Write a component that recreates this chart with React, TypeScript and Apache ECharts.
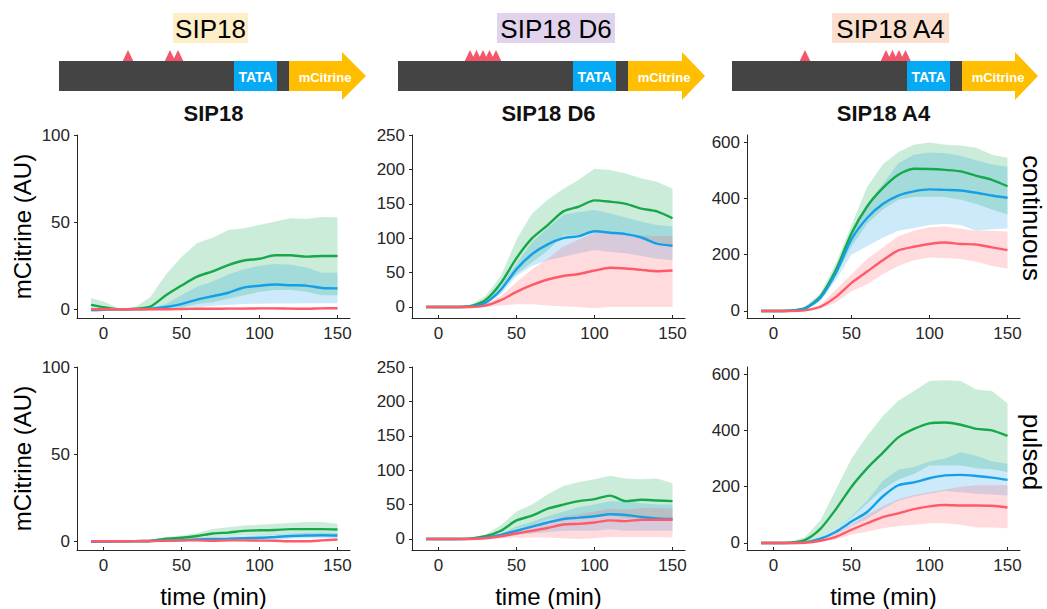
import React, { useEffect, useRef } from "react";
import * as echarts from "echarts";

// ---------- data ----------
const timeMin = [-8, 0, 10, 20, 30, 40, 50, 60, 70, 80, 90, 100, 110, 120, 130, 140, 150];
const xTicks = [0, 50, 100, 150];
const yTicksSIP18 = [0, 50, 100];
const yTicksD6 = [0, 50, 100, 150, 200, 250];
const yTicksA4 = [0, 200, 400, 600];

const panelTitles = ["SIP18", "SIP18 D6", "SIP18 A4"];
const rowLabels = ["continuous", "pulsed"];

// SIP18 continuous
const sip18ContG = [2.5, 1.2, 0, 0.3, 1.5, 8, 13.6, 18.7, 21.8, 25.4, 28, 29, 31, 31, 30.2, 30.6, 30.6];
const sip18ContGHi = [6.5, 4.5, 0.5, 1, 7, 20, 30, 38, 41, 45.5, 46.5, 48.4, 50.3, 52.2, 51.8, 53, 52.8];
const sip18ContGLo = [0, 0, -0.5, -0.3, 0, 0.5, 1, 3, 4, 6, 8, 10, 11, 11, 10, 8, 8];
const sip18ContB = [-0.5, -0.3, 0, 0, 0.3, 1.3, 3, 5.5, 7.5, 9.5, 12.5, 13.5, 14.2, 13.8, 13.6, 12.2, 12];
const sip18ContBHi = [0.5, 0.3, 0.3, 0.3, 0.8, 3, 8, 13, 16, 20, 23, 25, 26, 25.5, 24, 21, 21];
const sip18ContBLo = [-1.5, -1, -0.3, -0.2, 0, 0, 0.5, 1, 2, 2.5, 3, 3.2, 3.3, 3.3, 3.4, 3.5, 3.5];
const sip18ContR = [0, 0, 0, 0, 0, 0, 0.2, 0.3, 0.3, 0.4, 0.4, 0.5, 0.5, 0.4, 0.3, 0.5, 0.6];
const sip18ContRHi = [0.6, 0.6, 0.5, 0.5, 0.5, 0.6, 0.8, 0.9, 0.9, 1, 1, 1.1, 1.1, 1, 0.9, 1.1, 1.2];
const sip18ContRLo = [-0.6, -0.6, -0.5, -0.5, -0.5, -0.6, -0.4, -0.3, -0.3, -0.2, -0.2, -0.1, -0.1, -0.2, -0.3, -0.1, 0];

// SIP18 D6 continuous
const d6ContG = [0, 0, 0, 1, 10, 35, 71, 100, 119, 139, 146, 155, 153, 150, 143, 139, 129];
const d6ContGHi = [0, 0, 0.5, 2, 16, 45, 98, 136, 156, 172, 185, 201, 199, 194, 187, 182, 172];
const d6ContGLo = [0, 0, 0, 0, 5, 26, 48, 65, 82, 104, 105, 109, 108, 106, 100, 95, 90];
const d6ContB = [0, 0, 0, 0.3, 6, 25, 55, 77, 91, 100, 103, 110, 108, 106, 101, 92, 89];
const d6ContBHi = [0, 0, 0, 1, 9, 31, 63, 95, 115, 134, 138, 141, 136, 130, 124, 119, 117];
const d6ContBLo = [0, 0, 0, 0, 3, 19, 45, 60, 68, 73, 78, 83, 80, 78, 74, 70, 68];
const d6ContR = [0, 0, 0, 0, 2, 10, 22, 32, 40, 45, 48, 53, 57, 56, 54, 52, 53];
const d6ContRHi = [0, 0, 0, 0.5, 4, 16, 36, 55, 70, 88, 98, 108, 108, 106, 104, 103, 103];
const d6ContRLo = [0, 0, 0, 0, 0, 2, 4, 4, 2, 1, 0, -2, 0, 0, 0, 0, 0];

// SIP18 A4 continuous
const a4ContG = [0, 0, 1, 9, 51, 146, 276, 371, 436, 484, 505, 504, 501, 496, 480, 466, 443];
const a4ContGHi = [1, 1, 3, 14, 62, 170, 305, 440, 520, 565, 590, 598, 590, 588, 580, 555, 544];
const a4ContGLo = [-1, -1, 0, 5, 40, 125, 230, 310, 360, 395, 405, 406, 405, 395, 380, 360, 343];
const a4ContB = [0, 0, 1, 8, 46, 135, 255, 330, 380, 410, 425, 432, 430, 428, 420, 410, 402];
const a4ContBHi = [1, 1, 2, 12, 55, 150, 285, 380, 450, 525, 555, 563, 560, 550, 535, 520, 512];
const a4ContBLo = [-1, -1, 0, 5, 35, 110, 200, 230, 260, 285, 295, 305, 310, 305, 285, 290, 293];
const a4ContR = [0, 0, 0, 2, 15, 50, 100, 140, 180, 215, 228, 238, 243, 238, 236, 226, 216];
const a4ContRHi = [1, 1, 1, 4, 22, 75, 130, 185, 225, 265, 285, 297, 300, 292, 285, 285, 282];
const a4ContRLo = [-1, -1, 0, 1, 8, 30, 70, 95, 130, 160, 180, 190, 188, 185, 175, 160, 151];

// SIP18 pulsed
const sip18PulseG = [0, 0, 0, 0, 0.2, 1.5, 2, 3, 4.5, 5, 6, 6.3, 6.5, 7, 7, 7, 6.8];
const sip18PulseGHi = [0.3, 0.3, 0.2, 0.3, 0.8, 2.5, 3.2, 4.8, 7, 8, 9, 9.5, 10, 10.5, 11, 11, 10];
const sip18PulseGLo = [-0.3, -0.3, -0.2, -0.2, 0, 0.8, 1, 1.5, 2.5, 3, 3.5, 3.5, 3.8, 4, 4, 4, 4];
const sip18PulseB = [-0.3, -0.2, 0, 0.1, 0.2, 0.4, 0.6, 1, 1.3, 1.5, 1.8, 2, 2.5, 3, 3.3, 3.5, 3.3];
const sip18PulseBHi = [0.3, 0.3, 0.4, 0.5, 0.7, 1, 1.5, 2, 2.5, 3, 3.3, 3.6, 4, 4.5, 4.8, 5, 4.8];
const sip18PulseBLo = [-0.8, -0.7, -0.4, -0.3, -0.2, -0.1, 0, 0.2, 0.4, 0.5, 0.6, 0.7, 1, 1.4, 1.7, 1.9, 1.8];
const sip18PulseR = [0, 0, 0, 0.1, 0.2, 0.3, 0.5, 0.5, 0.3, 0.5, 0.5, 0.4, 0.3, 0, 0, 0.5, 1];
const sip18PulseRHi = [0.5, 0.5, 0.5, 0.6, 0.7, 0.8, 1, 1, 0.8, 1, 1, 0.9, 0.8, 0.5, 0.5, 1, 1.5];
const sip18PulseRLo = [-0.5, -0.5, -0.5, -0.4, -0.3, -0.2, 0, 0, -0.2, 0, 0, -0.1, -0.2, -0.5, -0.5, 0, 0.5];

// SIP18 D6 pulsed
const d6PulseG = [0, 0, 0, 0.5, 4, 12, 27, 34, 44, 50, 55, 58, 63, 55, 57, 56, 55];
const d6PulseGHi = [0, 0, 0, 1, 6, 20, 40, 50, 65, 77, 83, 87, 92, 88, 87, 88, 81];
const d6PulseGLo = [0, 0, 0, 0, 2, 5, 15, 20, 28, 32, 33, 34, 36, 30, 30, 30, 30];
const d6PulseB = [0, 0, 0, 0.3, 2, 6, 12, 18, 24, 29, 31, 33, 36, 35, 32, 30, 29];
const d6PulseBHi = [0, 0, 0, 0.5, 3, 8, 18, 25, 33, 40, 46, 50, 55, 54, 52, 50, 50];
const d6PulseBLo = [0, 0, 0, 0, 1, 3, 6, 8, 10, 12, 12, 12, 14, 12, 12, 12, 12];
const d6PulseR = [0, 0, 0, 0, 1, 4, 8, 12, 16, 21, 22, 24, 27, 26, 28, 28, 28];
const d6PulseRHi = [0, 0, 0, 0.3, 2, 6, 14, 20, 27, 33, 36, 40, 44, 43, 45, 45, 44];
const d6PulseRLo = [0, 0, 0, 0, 0, 1, 2, 2, 2, 1, 0, 1, 3, 3, 3, 3, 2];

// SIP18 A4 pulsed
const a4PulseG = [0, 0, 1, 10, 50, 120, 200, 265, 320, 375, 405, 425, 428, 420, 405, 400, 380];
const a4PulseGHi = [1, 1, 3, 20, 80, 190, 300, 380, 450, 505, 540, 575, 578, 575, 545, 540, 496];
const a4PulseGLo = [-1, -1, 0, 3, 20, 50, 90, 140, 190, 225, 245, 275, 275, 275, 265, 262, 252];
const a4PulseB = [0, 0, 0, 2, 15, 40, 76, 110, 165, 205, 215, 230, 240, 242, 238, 232, 224];
const a4PulseBHi = [1, 1, 1, 4, 20, 50, 95, 150, 220, 260, 270, 289, 300, 322, 310, 290, 281];
const a4PulseBLo = [-1, -1, 0, 1, 10, 30, 60, 85, 120, 150, 165, 175, 185, 180, 175, 172, 169];
const a4PulseR = [0, 0, 0, 1, 8, 22, 47, 70, 92, 105, 120, 130, 135, 133, 133, 132, 126];
const a4PulseRHi = [1, 1, 1, 2, 12, 35, 65, 100, 130, 155, 170, 180, 190, 200, 205, 205, 205];
const a4PulseRLo = [-1, -1, 0, 0, 4, 12, 30, 40, 52, 60, 65, 70, 70, 65, 55, 55, 52];

// ---------- styling ----------
const FONT = "'Liberation Sans', Arial, Helvetica, sans-serif";
const GREEN = "#16a84a";
const BLUE = "#159fe6";
const RED = "#ff5a68";
const BAND_GREEN = "rgba(30,175,85,0.23)";
const BAND_BLUE = "rgba(25,160,232,0.22)";
const BAND_RED = "rgba(255,90,104,0.22)";
const AXIS = "#262626";

type Trio = { mean: number[]; hi: number[]; lo: number[] };
type Panel = { g: Trio; b: Trio; r: Trio; yMin: number; yMax: number; yTicks: number[] };

const panels: Panel[] = [
  {
    g: { mean: sip18ContG, hi: sip18ContGHi, lo: sip18ContGLo },
    b: { mean: sip18ContB, hi: sip18ContBHi, lo: sip18ContBLo },
    r: { mean: sip18ContR, hi: sip18ContRHi, lo: sip18ContRLo },
    yMin: -5, yMax: 100, yTicks: yTicksSIP18,
  },
  {
    g: { mean: d6ContG, hi: d6ContGHi, lo: d6ContGLo },
    b: { mean: d6ContB, hi: d6ContBHi, lo: d6ContBLo },
    r: { mean: d6ContR, hi: d6ContRHi, lo: d6ContRLo },
    yMin: -16, yMax: 250, yTicks: yTicksD6,
  },
  {
    g: { mean: a4ContG, hi: a4ContGHi, lo: a4ContGLo },
    b: { mean: a4ContB, hi: a4ContBHi, lo: a4ContBLo },
    r: { mean: a4ContR, hi: a4ContRHi, lo: a4ContRLo },
    yMin: -25, yMax: 625, yTicks: yTicksA4,
  },
  {
    g: { mean: sip18PulseG, hi: sip18PulseGHi, lo: sip18PulseGLo },
    b: { mean: sip18PulseB, hi: sip18PulseBHi, lo: sip18PulseBLo },
    r: { mean: sip18PulseR, hi: sip18PulseRHi, lo: sip18PulseRLo },
    yMin: -5, yMax: 100, yTicks: yTicksSIP18,
  },
  {
    g: { mean: d6PulseG, hi: d6PulseGHi, lo: d6PulseGLo },
    b: { mean: d6PulseB, hi: d6PulseBHi, lo: d6PulseBLo },
    r: { mean: d6PulseR, hi: d6PulseRHi, lo: d6PulseRLo },
    yMin: -16, yMax: 250, yTicks: yTicksD6,
  },
  {
    g: { mean: a4PulseG, hi: a4PulseGHi, lo: a4PulseGLo },
    b: { mean: a4PulseB, hi: a4PulseBHi, lo: a4PulseBLo },
    r: { mean: a4PulseR, hi: a4PulseRHi, lo: a4PulseRLo },
    yMin: -25, yMax: 625, yTicks: yTicksA4,
  },
];

const GRID_LEFTS = [77, 412, 747];
const GRID_TOPS = [135, 367];
const GRID_W = 273;
const GRID_H = 183;

function bandSeries(i: number, t: Trio, fill: string) {
  return {
    type: "custom",
    xAxisIndex: i,
    yAxisIndex: i,
    data: timeMin.map((x, j) => [x, t.lo[j], t.hi[j]]),
    encode: { x: 0, y: [1, 2] },
    silent: true,
    clip: true,
    z: 1,
    renderItem: (params: any, api: any) => {
      if (params.dataIndex !== 0) return null;
      const pts: number[][] = [];
      for (let j = 0; j < timeMin.length; j++) pts.push(api.coord([timeMin[j], t.hi[j]]));
      for (let j = timeMin.length - 1; j >= 0; j--) pts.push(api.coord([timeMin[j], t.lo[j]]));
      return { type: "polygon", shape: { points: pts }, style: { fill, stroke: "none" } };
    },
  };
}

function buildOption() {
  const grids: any[] = [];
  const xAxes: any[] = [];
  const yAxes: any[] = [];
  const series: any[] = [];
  panels.forEach((p, i) => {
    const col = i % 3;
    const row = Math.floor(i / 3);
    grids.push({ left: GRID_LEFTS[col], top: GRID_TOPS[row], width: GRID_W, height: GRID_H, containLabel: false });
    xAxes.push({
      type: "value",
      gridIndex: i,
      min: -17,
      max: 158,
      axisLine: { onZero: false, lineStyle: { color: AXIS, width: 1 } },
      axisTick: { show: true, inside: true, length: 3, customValues: xTicks, lineStyle: { color: AXIS } },
      axisLabel: { customValues: xTicks, fontSize: 17, color: AXIS, fontFamily: FONT, margin: 7 },
      splitLine: { show: false },
      name: row === 1 ? "time (min)" : "",
      nameLocation: "middle",
      nameGap: 34,
      nameTextStyle: { fontSize: 24, color: "#000", fontFamily: FONT },
    });
    yAxes.push({
      type: "value",
      gridIndex: i,
      min: p.yMin,
      max: p.yMax,
      axisLine: { show: true, onZero: false, lineStyle: { color: AXIS, width: 1 } },
      axisTick: { show: true, inside: false, length: 3, customValues: p.yTicks, lineStyle: { color: AXIS } },
      axisLabel: { customValues: p.yTicks, fontSize: 17, color: AXIS, fontFamily: FONT, margin: 7 },
      splitLine: { show: false },
      name: col === 0 ? "mCitrine (AU)" : "",
      nameLocation: "middle",
      nameGap: 43,
      nameTextStyle: { fontSize: 24, color: "#000", fontFamily: FONT },
    });
    const trios: [Trio, string, string][] = [
      [p.g, GREEN, BAND_GREEN],
      [p.b, BLUE, BAND_BLUE],
      [p.r, RED, BAND_RED],
    ];
    trios.forEach(([t, , band]) => {
      series.push(bandSeries(i, t, band));
    });
    trios.forEach(([t, color]) => {
      series.push({
        type: "line",
        xAxisIndex: i,
        yAxisIndex: i,
        data: timeMin.map((x, j) => [x, t.mean[j]]),
        symbol: "none",
        smooth: 0.25,
        lineStyle: { color, width: 2.4 },
        silent: true,
        z: 3,
      });
    });
  });

  const graphic: any[] = [];
  panelTitles.forEach((title, c) => {
    graphic.push({
      type: "text",
      x: GRID_LEFTS[c] + GRID_W / 2,
      y: 113,
      style: { text: title, fontSize: 22, fontWeight: "bold", fontFamily: FONT, fill: "#111", align: "center", verticalAlign: "middle" },
    });
  });
  graphic.push({
    type: "text",
    x: 1032,
    y: 218,
    rotation: -Math.PI / 2,
    style: { text: rowLabels[0], fontSize: 26, fontFamily: FONT, fill: "#000", align: "center", verticalAlign: "middle" },
  });
  graphic.push({
    type: "text",
    x: 1032,
    y: 452,
    rotation: -Math.PI / 2,
    style: { text: rowLabels[1], fontSize: 26, fontFamily: FONT, fill: "#000", align: "center", verticalAlign: "middle" },
  });

  const diagrams = [
    { x0: 59, tata: 234, tataEnd: 277, gapEnd: 289, head: 342, tip: 366, box: [173, 248], boxColor: "#fdeec8", tri: [128, 170, 178] },
    { x0: 398, tata: 573, tataEnd: 616, gapEnd: 628, head: 682, tip: 705, box: [497, 615], boxColor: "#e1d3eb", tri: [470, 476.5, 483, 489.5, 496] },
    { x0: 732, tata: 907, tataEnd: 950, gapEnd: 962, head: 1015, tip: 1038, box: [832, 949], boxColor: "#fadfce", tri: [805, 886, 892.5, 899, 905.5] },
  ];
  const yTop = 61, yBot = 91;
  diagrams.forEach((d, c) => {
    graphic.push({ type: "rect", shape: { x: d.box[0], y: 13, width: d.box[1] - d.box[0], height: 30 }, style: { fill: d.boxColor } });
    graphic.push({
      type: "text",
      x: (d.box[0] + d.box[1]) / 2,
      y: 29,
      style: { text: panelTitles[c], fontSize: 26, fontFamily: FONT, fill: "#000", align: "center", verticalAlign: "middle" },
    });
    d.tri.forEach((cx) => {
      graphic.push({
        type: "polygon",
        shape: { points: [[cx - 5.5, yTop + 0.5], [cx, 50], [cx + 5.5, yTop + 0.5]] },
        style: { fill: "#f2566a" },
      });
    });
    graphic.push({ type: "rect", shape: { x: d.x0, y: yTop, width: d.gapEnd - d.x0, height: yBot - yTop }, style: { fill: "#444444" } });
    graphic.push({ type: "rect", shape: { x: d.tata, y: yTop, width: d.tataEnd - d.tata, height: yBot - yTop }, style: { fill: "#05a9f4" } });
    graphic.push({
      type: "text",
      x: (d.tata + d.tataEnd) / 2,
      y: (yTop + yBot) / 2 + 1,
      style: { text: "TATA", fontSize: 14, fontWeight: "bold", fontFamily: FONT, fill: "#fff", align: "center", verticalAlign: "middle" },
    });
    graphic.push({
      type: "polygon",
      shape: {
        points: [
          [d.gapEnd, yTop], [d.head, yTop], [d.head, 52], [d.tip, 76], [d.head, 100], [d.head, yBot], [d.gapEnd, yBot],
        ],
      },
      style: { fill: "#ffbf00" },
    });
    graphic.push({
      type: "text",
      x: d.gapEnd + 36,
      y: (yTop + yBot) / 2 + 1,
      style: { text: "mCitrine", fontSize: 13, fontWeight: "bold", fontFamily: FONT, fill: "#fff", align: "center", verticalAlign: "middle" },
    });
  });

  return {
    animation: false,
    backgroundColor: "#ffffff",
    textStyle: { fontFamily: FONT },
    grid: grids,
    xAxis: xAxes,
    yAxis: yAxes,
    series,
    graphic,
  };
}

export default function App() {
  const ref = useRef<HTMLDivElement>(null);
  useEffect(() => {
    if (!ref.current) return;
    const chart = echarts.init(ref.current, undefined, { renderer: "svg" });
    chart.setOption(buildOption());
    return () => chart.dispose();
  }, []);
  return (
    <div
      ref={ref}
      style={{ position: "fixed", left: 0, top: 0, width: 1047, height: 609, background: "#fff" }}
    />
  );
}
